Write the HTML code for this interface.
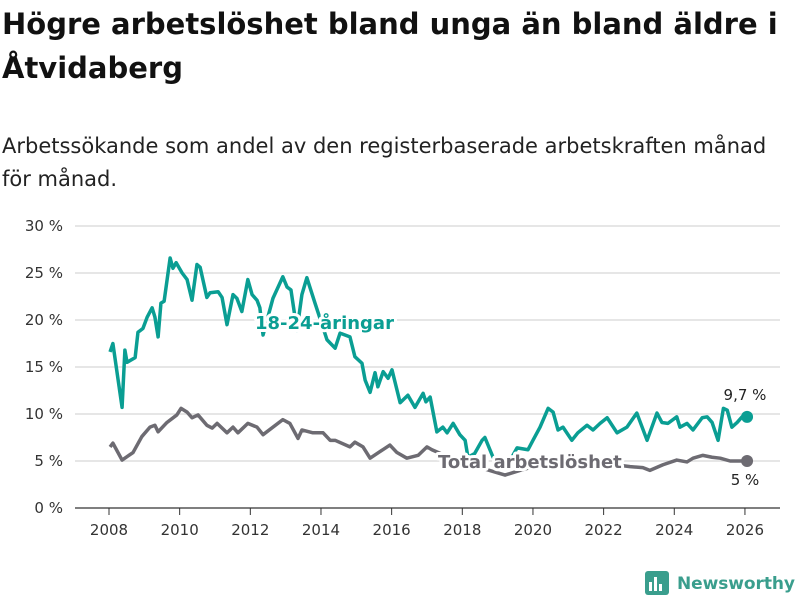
<!DOCTYPE html>
<html><head><meta charset="utf-8"><style>
body{margin:0;width:800px;height:600px;background:#fff;font-family:"Liberation Sans","DejaVu Sans",sans-serif;overflow:hidden;position:relative}
h1{position:absolute;left:2px;top:2px;margin:0;font-family:"DejaVu Sans",sans-serif;font-size:29px;line-height:44px;font-weight:bold;color:#111;width:798px}
p{position:absolute;left:2px;top:130px;margin:0;font-family:"DejaVu Sans",sans-serif;font-size:21px;line-height:33px;color:#222;width:798px}
svg{position:absolute;left:0;top:0}
</style></head><body>
<h1>Högre arbetslöshet bland unga än bland äldre i Åtvidaberg</h1>
<p>Arbetssökande som andel av den registerbaserade arbetskraften månad för månad.</p>
<svg id="c" width="800" height="600"></svg>
<script>
const yTicks=[0,5,10,15,20,25,30];
const xTicks=[2008,2010,2012,2014,2016,2018,2020,2022,2024,2026];
const youthDates=[2008.03,2008.11,2008.37,2008.45,2008.51,2008.74,2008.82,2008.96,2009.08,2009.22,2009.30,2009.39,2009.47,2009.56,2009.73,2009.81,2009.90,2010.07,2010.21,2010.35,2010.49,2010.58,2010.77,2010.86,2011.09,2011.20,2011.34,2011.51,2011.62,2011.76,2011.93,2012.05,2012.19,2012.27,2012.36,2012.64,2012.92,2013.04,2013.15,2013.32,2013.46,2013.60,2013.83,2014.17,2014.40,2014.54,2014.82,2014.96,2015.16,2015.25,2015.39,2015.53,2015.61,2015.76,2015.90,2016.01,2016.24,2016.46,2016.66,2016.89,2016.97,2017.09,2017.28,2017.45,2017.57,2017.74,2017.93,2018.08,2018.16,2018.35,2018.56,2018.64,2018.87,2019.27,2019.55,2019.86,2020.00,2020.20,2020.43,2020.57,2020.71,2020.85,2021.10,2021.27,2021.53,2021.70,2021.90,2022.10,2022.38,2022.66,2022.94,2023.23,2023.51,2023.65,2023.82,2024.07,2024.16,2024.36,2024.53,2024.79,2024.93,2025.07,2025.24,2025.39,2025.50,2025.63,2025.78,2025.92,2026.06];
const youthValues=[16.6,17.5,10.7,16.8,15.5,16,18.7,19.1,20.3,21.3,20.3,18.2,21.8,22,26.6,25.5,26.1,25,24.3,22.1,25.9,25.6,22.4,22.9,23,22.4,19.5,22.7,22.3,20.9,24.3,22.7,22.1,21.3,18.4,22.3,24.6,23.5,23.2,18.9,22.7,24.5,21.8,17.9,17,18.6,18.2,16.1,15.4,13.6,12.3,14.4,12.9,14.5,13.8,14.7,11.2,12,10.7,12.2,11.3,11.8,8.1,8.6,8,9,7.8,7.2,5.4,5.8,7.2,7.5,5.4,4.5,6.4,6.2,7.2,8.6,10.6,10.2,8.3,8.6,7.2,8,8.8,8.3,9,9.6,8,8.6,10.1,7.2,10.1,9.1,9,9.7,8.6,9,8.3,9.6,9.7,9.1,7.2,10.6,10.4,8.6,9.1,9.7,9.7];
const totalDates=[2008.03,2008.11,2008.37,2008.68,2008.93,2009.16,2009.30,2009.39,2009.64,2009.92,2010.04,2010.21,2010.35,2010.52,2010.77,2010.92,2011.06,2011.34,2011.51,2011.65,2011.93,2012.19,2012.36,2012.92,2013.12,2013.35,2013.46,2013.77,2014.06,2014.26,2014.40,2014.82,2014.96,2015.19,2015.39,2015.67,2015.95,2016.15,2016.43,2016.75,2017.00,2017.14,2017.93,2018.50,2019.21,2019.63,2020.20,2020.77,2021.33,2021.90,2022.32,2022.75,2023.11,2023.31,2023.68,2024.07,2024.36,2024.53,2024.81,2025.07,2025.30,2025.58,2026.06];
const totalValues=[6.5,6.9,5.1,5.9,7.6,8.6,8.8,8.1,9.1,9.9,10.6,10.2,9.6,9.9,8.8,8.5,9,8,8.6,8,9,8.6,7.8,9.4,9,7.4,8.3,8,8,7.2,7.2,6.5,7,6.5,5.3,6,6.7,5.9,5.3,5.6,6.5,6.2,4.9,4.3,3.5,4,4.6,4.9,5.1,4.9,4.6,4.4,4.3,4,4.6,5.1,4.9,5.3,5.6,5.4,5.3,5,5];
const NS="http://www.w3.org/2000/svg";
const svg=document.getElementById('c');
const X=d=>109+(d-2008)*35.33;
const Y=v=>508-v*9.4;
function mk(t,a,p){const e=document.createElementNS(NS,t);for(const k in a)e.setAttribute(k,a[k]);(p||svg).appendChild(e);return e;}
yTicks.forEach(v=>{
 const g=mk('line',{x1:75,x2:780,y1:Y(v),y2:Y(v),stroke:v===0?'#333':'#ddd','stroke-width':v===0?1.2:1.5});
 
 
 const t=mk('text',{x:63,y:Y(v)+5,'text-anchor':'end','font-size':15,fill:'#333','font-family':'DejaVu Sans,sans-serif'});
 t.textContent=v+' %';
 
 
});
xTicks.forEach(d=>{
 const l=mk('line',{x1:X(d),x2:X(d),y1:508,y2:515,stroke:'#333'});
 
 
 const t=mk('text',{x:X(d),y:535,'text-anchor':'middle','font-size':15,fill:'#333','font-family':'DejaVu Sans,sans-serif'});
 t.textContent=d;
 
 
});
function line(ds,vs,col,name){
 const p=mk('polyline',{points:ds.map((d,i)=>X(d)+','+Y(vs[i])).join(' '),fill:'none',stroke:col,'stroke-width':3.5,'stroke-linejoin':'round'});
 
 
 const n=ds.length-1;
 const c=mk('circle',{cx:X(ds[n]),cy:Y(vs[n]),r:6,fill:col});
 
 
}
line(totalDates,totalValues,'#6d6b72','total-line');
line(youthDates,youthValues,'#0a9e93','youth-line');
function lab(x,y,txt,col,w,anchor,name,size,halo){
 const t=mk('text',{x:x,y:y,'text-anchor':anchor,'font-size':size,'font-weight':w,fill:col,'font-family':'DejaVu Sans,sans-serif',stroke:halo?'#fff':'none','stroke-width':halo?6:0,'paint-order':'stroke','stroke-linejoin':'round'});
 t.textContent=txt;
 
 
}
lab(255,329,'18-24-åringar','#0a9e93','bold','start','youth-series-label',18,true);
lab(438,468,'Total arbetslöshet','#6d6b72','bold','start','total-series-label',18,true);
lab(745,400,'9,7 %','#222','normal','middle','youth-end-value',15,false);
lab(745,485,'5 %','#222','normal','middle','total-end-value',15,false);
const lg=mk('g',{});


mk('rect',{x:645,y:571,width:24,height:24,rx:3,fill:'#3a9e8d'},lg);
mk('rect',{x:649,y:582,width:3,height:9,fill:'#fff'},lg);
mk('rect',{x:654,y:577,width:3,height:14,fill:'#fff'},lg);
mk('rect',{x:659,y:584,width:3,height:7,fill:'#fff'},lg);
const lt=mk('text',{x:677,y:589,'font-size':17,'font-weight':'bold',fill:'#3a9e8d','font-family':'DejaVu Sans,sans-serif',textLength:118},lg);
lt.textContent='Newsworthy';
</script>
</body></html>
